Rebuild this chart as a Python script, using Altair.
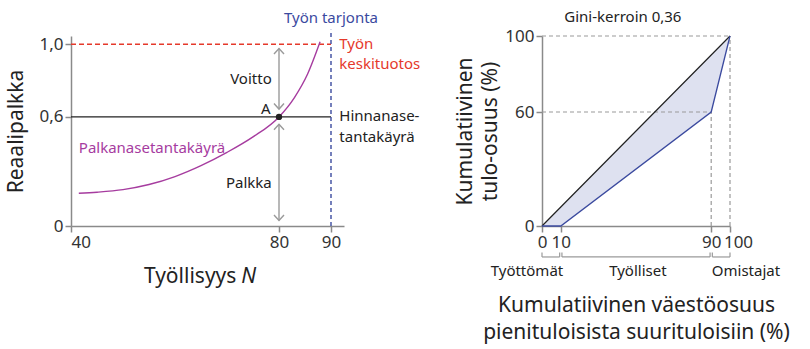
import altair as alt
import pandas as pd

FONT = "Noto Sans"
DARK = "#222222"
AXIS_GRAY = "#8a8a8a"
ARROW_GRAY = "#9a9a9a"
RED = "#e5392b"
BLUE = "#3b4a9f"
PURPLE = "#a63c9f"
FILL = "#dee1f0"

# ---------------- left panel data ----------------
curve_N = [41.5, 45.0, 50.0, 55.0, 60.0, 65.0, 70.0, 75.0, 80.0, 83.0, 85.5, 87.9]
curve_W = [0.180, 0.186, 0.200, 0.228, 0.272, 0.332, 0.405, 0.490, 0.600, 0.708, 0.836, 1.013]
left_x_ticks = [40, 80, 90]
left_y_ticks = [0, 0.6, 1.0]
avg_product = 1.0
price_setting = 0.6
labour_supply = 90
point_A_N = 80
point_A_W = 0.6

# ---------------- right panel data ----------------
pop_share = [0, 10, 90, 100]
income_share = [0, 0, 60, 100]
equality_share = [0, 10, 90, 100]
right_x_ticks = [0, 10, 90, 100]
right_y_ticks = [0, 60, 100]
group_names = ["Työttömät", "Työlliset", "Omistajat"]
group_start = [0, 10, 90]
group_end = [10, 90, 100]

# ---------------- scales / axes ----------------
xL = alt.Scale(domain=[40, 92.5], nice=False, zero=False)
yL = alt.Scale(domain=[0, 1.045], nice=False, zero=False)
axL = alt.Axis(values=left_x_ticks, title=None, labelFlush=True, labelOverlap=False)
ayL = alt.Axis(values=left_y_ticks, title="Reaalipalkka", titlePadding=12,
               labelExpr="datum.value == 0 ? '0' : replace(format(datum.value, '.1f'), '.', ',')")


def xl(field="N"):
    return alt.X(f"{field}:Q", scale=xL, axis=axL)


def yl(field="W"):
    return alt.Y(f"{field}:Q", scale=yL, axis=ayL)


red_rule = alt.Chart(pd.DataFrame({"N": [40], "N2": [labour_supply], "W": [avg_product]})).mark_rule(
    color=RED, strokeDash=[5, 3], strokeWidth=1.4).encode(x=xl(), x2="N2:Q", y=yl())
black_rule = alt.Chart(pd.DataFrame({"N": [40], "N2": [labour_supply], "W": [price_setting]})).mark_rule(
    color=DARK, strokeWidth=1.4).encode(x=xl(), x2="N2:Q", y=yl())
blue_rule = alt.Chart(pd.DataFrame({"N": [labour_supply], "W": [0], "W2": [1.08]})).mark_rule(
    color=BLUE, strokeDash=[4, 3], strokeWidth=1.4).encode(x=xl(), y=yl(), y2="W2:Q")

curve = alt.Chart(pd.DataFrame({"N": curve_N, "W": curve_W})).mark_line(
    color=PURPLE, strokeWidth=1.4, interpolate="monotone").encode(x=xl(), y=yl())

arrows = alt.Chart(pd.DataFrame({"N": [80, 80], "W": [0.643, 0.03], "W2": [0.976, 0.56]})).mark_rule(
    color=ARROW_GRAY, strokeWidth=1.4).encode(x=xl(), y=yl(), y2="W2:Q")
heads_up = alt.Chart(pd.DataFrame({"N": [80, 80], "W": [0.976, 0.56]})).mark_point(
    shape="M-1,1.1L0,0L1,1.1", size=100, filled=False, color=ARROW_GRAY, strokeWidth=1.4, opacity=1
).encode(x=xl(), y=yl())
heads_down = alt.Chart(pd.DataFrame({"N": [80, 80], "W": [0.643, 0.03]})).mark_point(
    shape="M-1,-1.1L0,0L1,-1.1", size=100, filled=False, color=ARROW_GRAY, strokeWidth=1.4, opacity=1
).encode(x=xl(), y=yl())

dotA = alt.Chart(pd.DataFrame({"N": [point_A_N], "W": [point_A_W]})).mark_circle(
    color=DARK, size=40, opacity=1).encode(x=xl(), y=yl())

lab_left = alt.Chart(pd.DataFrame({
    "N": [91.6, 91.6, 91.6, 91.6, 41.5],
    "W": [1.0, 0.89, 0.606, 0.487, 0.43],
    "text": ["Työn", "keskituotos", "Hinnanase-", "tantakäyrä", "Palkanasetantakäyrä"],
    "c": [RED, RED, DARK, DARK, PURPLE],
})).mark_text(align="left", baseline="middle", font=FONT, fontSize=15).encode(
    x=xl(), y=yl(), text="text:N", color=alt.Color("c:N", scale=None))

lab_right = alt.Chart(pd.DataFrame({
    "N": [78.6, 78.6, 78.4],
    "W": [0.81, 0.236, 0.643],
    "text": ["Voitto", "Palkka", "A"],
})).mark_text(align="right", baseline="middle", font=FONT, fontSize=15, color=DARK).encode(
    x=xl(), y=yl(), text="text:N")

lab_top = alt.Chart(pd.DataFrame({"N": [labour_supply], "W": [1.145], "text": ["Työn tarjonta"]})).mark_text(
    align="center", baseline="middle", font=FONT, fontSize=15, color=BLUE).encode(
    x=xl(), y=yl(), text="text:N")

xtitle_a = alt.Chart(pd.DataFrame({"N": [71.8], "W": [-0.28], "text": ["Työllisyys"]})).mark_text(
    align="right", baseline="middle", font=FONT, fontSize=21, color=DARK).encode(
    x=xl(), y=yl(), text="text:N")
xtitle_b = alt.Chart(pd.DataFrame({"N": [72.76], "W": [-0.28], "text": ["N"]})).mark_text(
    align="left", baseline="middle", font=FONT, fontSize=21, fontStyle="italic", color=DARK).encode(
    x=xl(), y=yl(), text="text:N")

left = alt.layer(
    red_rule, black_rule, blue_rule, curve, arrows, heads_up, heads_down, dotA,
    lab_left, lab_right, lab_top, xtitle_a, xtitle_b
).properties(width=273, height=190)

# ---------------- right panel ----------------
xR = alt.Scale(domain=[0, 100], nice=False, zero=False)
yR = alt.Scale(domain=[0, 100], nice=False, zero=False)
axR = alt.Axis(values=right_x_ticks, labelOverlap=False, labelFlush=False,
               labelOffset={"condition": {"test": "datum.value === 100", "value": 8}, "value": 0},
               title=["Kumulatiivinen väestöosuus", "pienituloisista suurituloisiin (%)"],
               titlePadding=44, titleLineHeight=27)
ayR = alt.Axis(values=right_y_ticks, title=["Kumulatiivinen", "tulo-osuus (%)"],
               titlePadding=4, titleLineHeight=25)


def xr(field="P"):
    return alt.X(f"{field}:Q", scale=xR, axis=axR)


def yr(field="S"):
    return alt.Y(f"{field}:Q", scale=yR, axis=ayR)


lor_df = pd.DataFrame({"P": pop_share, "S": income_share, "E": equality_share})

area = alt.Chart(lor_df).mark_area(color=FILL, opacity=1).encode(x=xr(), y=yr(), y2="E:Q")

dash_df = pd.DataFrame({
    "P": [0, 0, 90, 100],
    "P2": [100, 90, 90, 100],
    "S": [100, 60, 0, 0],
    "S2": [100, 60, 60, 100],
})
dashes = alt.Chart(dash_df).mark_rule(color=ARROW_GRAY, strokeDash=[4, 3], strokeWidth=1.2).encode(
    x=xr(), x2="P2:Q", y=yr(), y2="S2:Q")

diag = alt.Chart(lor_df).mark_line(color=DARK, strokeWidth=1.2).encode(x=xr(), y=yr("E"))
lorenz = alt.Chart(lor_df).mark_line(color=BLUE, strokeWidth=1.3).encode(x=xr(), y=yr())

gap = 0.6
br_df = pd.DataFrame({
    "P": [s + (gap if s > 0 else 0) for s in group_start],
    "P2": [e - (gap if e < 100 else 0) for e in group_end],
    "S": [-16.3] * 3,
})
br_h = alt.Chart(br_df).mark_rule(color=ARROW_GRAY, strokeWidth=1.2).encode(x=xr(), x2="P2:Q", y=yr())
br_ends = pd.DataFrame({
    "P": list(br_df["P"]) + list(br_df["P2"]),
    "S": [-16.3] * 6,
    "S2": [-14.0] * 6,
})
br_v = alt.Chart(br_ends).mark_rule(color=ARROW_GRAY, strokeWidth=1.2).encode(x=xr(), y=yr(), y2="S2:Q")

br_lab = alt.Chart(pd.DataFrame({
    "P": [-8, 51, 108.5],
    "S": [-23.5] * 3,
    "text": group_names,
})).mark_text(align="center", baseline="middle", font=FONT, fontSize=15, color=DARK).encode(
    x=xr(), y=yr(), text="text:N")

gini = alt.Chart(pd.DataFrame({"P": [43], "S": [110], "text": ["Gini-kerroin 0,36"]})).mark_text(
    align="center", baseline="middle", font=FONT, fontSize=15, color=DARK).encode(
    x=xr(), y=yr(), text="text:N")

right = alt.layer(area, dashes, diag, lorenz, br_h, br_v, br_lab, gini).properties(width=188, height=190)

chart = alt.hconcat(left, right, spacing=198, bounds="flush").properties(
    padding={"left": 5, "top": 9, "right": 5, "bottom": 5}
).configure_view(stroke=None).configure_axis(
    grid=False,
    domainColor=AXIS_GRAY, domainWidth=1.5,
    tickColor=AXIS_GRAY, tickWidth=1.5, tickSize=6,
    labelFont=FONT, labelFontSize=17, labelColor="#333333", labelPadding=2,
    titleFont=FONT, titleFontSize=21, titleFontWeight="normal", titleColor=DARK,
)

chart.save("out.html", embed_options={"renderer": "svg", "actions": False})
